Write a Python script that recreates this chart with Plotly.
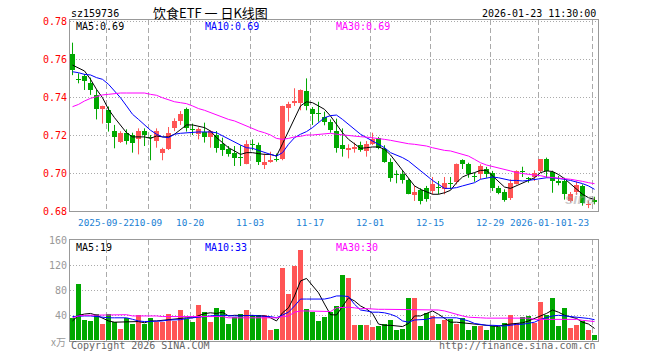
import plotly.graph_objects as go
import numpy as np

# ---------------- data ----------------
opens = [0.7627,0.7494,0.7512,0.7475,0.7411,0.7335,0.7333,0.7221,0.7165,0.7212,
         0.7198,0.7177,0.7223,0.7191,0.7168,0.7104,0.7125,0.7235,0.7275,0.7335,
         0.7232,0.7204,0.7216,0.7191,0.7200,0.7154,0.7125,0.7107,0.7081,0.7049,
         0.7151,0.7147,0.7044,0.7060,0.7072,0.7072,0.7344,0.7367,0.7367,0.7432,
         0.7335,0.7310,0.7296,0.7268,0.7221,0.7146,0.7123,0.7125,0.7147,0.7116,
         0.7154,0.7186,0.7128,0.7060,0.6991,0.6993,0.6961,0.6882,0.6911,0.6923,
         0.6905,0.6923,0.6914,0.6946,0.6954,0.7070,0.7046,0.6979,0.6993,0.7023,
         0.7002,0.6923,0.6902,0.6870,0.6944,0.7009,0.6968,0.6979,0.7011,0.7072,
         0.7006,0.6952,0.6960,0.6855,0.6900,0.6930,0.6832,0.6858]
highs = [0.7686,0.7525,0.7521,0.7502,0.7440,0.7354,0.7350,0.7253,0.7220,0.7230,
         0.7212,0.7235,0.7235,0.7200,0.7235,0.7133,0.7242,0.7288,0.7326,0.7344,
         0.7260,0.7240,0.7265,0.7225,0.7221,0.7186,0.7142,0.7142,0.7146,0.7172,
         0.7177,0.7160,0.7102,0.7112,0.7102,0.7354,0.7375,0.7446,0.7440,0.7498,
         0.7347,0.7375,0.7323,0.7282,0.7286,0.7235,0.7151,0.7160,0.7165,0.7168,
         0.7212,0.7190,0.7146,0.7077,0.7014,0.7014,0.6972,0.6932,0.6920,0.6932,
         0.6979,0.6958,0.6979,0.6979,0.7050,0.7072,0.7054,0.7002,0.7046,0.7032,
         0.7011,0.6932,0.6914,0.6967,0.7014,0.7033,0.6979,0.7014,0.7072,0.7081,
         0.7012,0.6985,0.6975,0.6900,0.6955,0.6940,0.6855,0.6875]
lows  = [0.7515,0.7472,0.7437,0.7411,0.7282,0.7260,0.7218,0.7130,0.7158,0.7150,
         0.7107,0.7098,0.7142,0.7067,0.7133,0.7067,0.7121,0.7220,0.7253,0.7218,
         0.7200,0.7177,0.7160,0.7133,0.7107,0.7090,0.7086,0.7037,0.7037,0.7046,
         0.7120,0.7042,0.7021,0.7054,0.7060,0.7067,0.7270,0.7353,0.7330,0.7330,
         0.7253,0.7270,0.7251,0.7212,0.7107,0.7086,0.7077,0.7107,0.7112,0.7086,
         0.7147,0.7125,0.7054,0.6954,0.6946,0.6944,0.6888,0.6853,0.6835,0.6849,
         0.6888,0.6888,0.6888,0.6914,0.6940,0.7021,0.6975,0.6954,0.6967,0.6975,
         0.6905,0.6888,0.6849,0.6858,0.6940,0.6979,0.6949,0.6958,0.7002,0.6975,
         0.6896,0.6935,0.6860,0.6845,0.6885,0.6828,0.6815,0.6835]
closes = [0.7540,0.7490,0.7484,0.7435,0.7335,0.7354,0.7265,0.7191,0.7212,0.7168,
          0.7156,0.7223,0.7200,0.7182,0.7223,0.7125,0.7212,0.7275,0.7312,0.7235,
          0.7228,0.7233,0.7191,0.7221,0.7133,0.7121,0.7102,0.7081,0.7077,0.7151,
          0.7149,0.7060,0.7060,0.7070,0.7070,0.7354,0.7365,0.7377,0.7435,0.7353,
          0.7312,0.7308,0.7268,0.7225,0.7133,0.7125,0.7130,0.7137,0.7121,0.7154,
          0.7177,0.7133,0.7060,0.6972,0.6989,0.6961,0.6891,0.6902,0.6853,0.6861,
          0.6940,0.6921,0.6949,0.6944,0.7049,0.7046,0.6993,0.6977,0.7037,0.6993,
          0.6923,0.6893,0.6856,0.6949,0.7011,0.7007,0.6966,0.7002,0.7072,0.7011,
          0.6960,0.6950,0.6892,0.6890,0.6935,0.6843,0.6836,0.6850]
volumes = [35,90,32.5,31,41.6,26,41.6,29,18,36,
           26,40,26,35,30,30,42,31,48.5,33.6,
           29,56.5,45,29,51.7,48.5,26,38,42,48.5,
           41,40,40,16,18,115,74,119,145,50,
           46,31,38,46,55,104.5,99.7,24.5,24.5,24.5,
           21,23,26,32.5,16.5,18,68,68,23,44,
           39,26,32.5,34,26,36,16.5,23,23,16.5,
           23,21,28,40.5,28,37,39,28,61,40.5,
           68,23,52,20,24.5,31,16.5,8.5]

ma5 = [0.7568,0.7554,0.7537,0.7493,0.7440,0.7396,0.7335,0.7291,0.7253,0.7212,
       0.7190,0.7190,0.7190,0.7182,0.7195,0.7190,0.7190,0.7204,0.7230,0.7253,
       0.7253,0.7247,0.7239,0.7221,0.7186,0.7160,0.7133,0.7116,0.7098,0.7107,
       0.7107,0.7102,0.7098,0.7098,0.7089,0.7154,0.7221,0.7291,0.7353,0.7375,
       0.7370,0.7353,0.7335,0.7300,0.7253,0.7212,0.7177,0.7151,0.7130,0.7133,
       0.7137,0.7137,0.7125,0.7095,0.7054,0.7014,0.6975,0.6932,0.6914,0.6902,
       0.6888,0.6888,0.6896,0.6909,0.6949,0.6979,0.6993,0.7002,0.7014,0.7014,
       0.6984,0.6954,0.6926,0.6919,0.6932,0.6946,0.6961,0.6975,0.7002,0.7011,
       0.7008,0.6992,0.6970,0.6942,0.6914,0.6888,0.6870,0.6861]
ma10 = [0.7533,0.7528,0.7519,0.7516,0.7502,0.7493,0.7467,0.7432,0.7396,0.7353,
        0.7309,0.7282,0.7253,0.7225,0.7204,0.7190,0.7186,0.7204,0.7209,0.7212,
        0.7212,0.7216,0.7216,0.7216,0.7212,0.7195,0.7177,0.7160,0.7147,0.7133,
        0.7130,0.7119,0.7107,0.7098,0.7089,0.7107,0.7151,0.7186,0.7204,0.7218,
        0.7239,0.7265,0.7291,0.7302,0.7305,0.7282,0.7256,0.7230,0.7204,0.7186,
        0.7168,0.7154,0.7133,0.7107,0.7095,0.7081,0.7063,0.7037,0.7014,0.6989,
        0.6961,0.6940,0.6919,0.6919,0.6923,0.6932,0.6940,0.6949,0.6967,0.6975,
        0.6979,0.6975,0.6967,0.6961,0.6961,0.6958,0.6961,0.6967,0.6972,0.6975,
        0.6975,0.6972,0.6967,0.6961,0.6954,0.6944,0.6932,0.6914]
ma30 = [0.7349,0.7361,0.7379,0.7393,0.7402,0.7411,0.7414,0.7418,0.7421,0.7421,
        0.7421,0.7421,0.7421,0.7414,0.7409,0.7396,0.7386,0.7375,0.7370,0.7365,
        0.7353,0.7339,0.7330,0.7318,0.7305,0.7291,0.7282,0.7274,0.7260,0.7247,
        0.7235,0.7221,0.7212,0.7200,0.7182,0.7177,0.7182,0.7190,0.7193,0.7200,
        0.7200,0.7204,0.7207,0.7209,0.7204,0.7200,0.7198,0.7195,0.7191,0.7189,
        0.7186,0.7182,0.7177,0.7172,0.7165,0.7160,0.7154,0.7151,0.7147,0.7142,
        0.7133,0.7125,0.7119,0.7116,0.7107,0.7102,0.7089,0.7072,0.7054,0.7042,
        0.7035,0.7028,0.7020,0.7011,0.7002,0.6996,0.6993,0.6989,0.6986,0.6979,
        0.6975,0.6972,0.6970,0.6967,0.6963,0.6956,0.6949,0.6944]
vma5 = [31,40,42,43,40,35,31,29,29,29,29,30,28,31,31,32,33.6,35,36,36,
        36,39,42.7,44,43,45,39,40,40,40,39,40,39,36,31,44,52,71,95,99,
        87,76,58,41,40.5,55,68,63,55,50,43,26,24,24,23,22,27,39,39,43,
        47,41.6,35,29,29,28,27,26,24,23,22,22,25,26,27,28,31,35,40,43,
        48.5,45,40,38,35,29,26,19]
vma10 = [38,39,39,39,38,36,36,36,36,36,33.6,31,30,30,30,31,32.5,33,33,35,
         36,38,39,40,40,40,39,39,39,40,40,39,39,38,36,40,45,55,66,66,
         66,66,66,68,71,71,70,57.6,48.5,47,45,45,44,41.6,38,31,29,32.5,32.5,33.6,
         36,36,36,36,36,33.6,31,27,25.6,24,24,23,23,24,25.6,25.6,27,29,33.6,36,
         39,40,39,39,37,36,35,33]
vma30 = [36,39,40,40,41,41,41,41,41,41,39,39,40,40,39,38,38,38,38,38,
         38,38,38,38,38,38,36,36,36,36,36,36,36,36,36,38,39,45,47,47,
         47,47,47,46,52,53,53,52,50.7,50.7,49.6,49.6,49.6,49.6,49.6,49.6,49.6,49.6,49.6,49.6,
         49,48.5,47,44,41.6,39,37,36,36,35.5,35.5,35.5,35.5,35.5,35.5,35.5,35.5,33.5,33.5,33.5,
         33.5,33.5,33.5,33.5,33.5,32,31,30]

date_labels = ["2025-09-22", "10-09", "10-20", "11-03", "11-17",
               "12-01", "12-15", "12-29", "2026-01-12", "01-23"]
date_index = [6, 13, 20, 30, 40, 50, 60, 70, 78, 87]
price_ticks = [0.68, 0.70, 0.72, 0.74, 0.76, 0.78]
vol_ticks = [40, 80, 120, 160]

# ---------------- styling ----------------
RED = "#ff5555"
GREEN = "#00a800"
GRID = "#aaaaaa"
BORDER = "#999999"
MONO = "DejaVu Sans Mono, Liberation Mono, monospace"
W, H = 660, 360
L, R, T, B = 70, 62, 20, 19
PW, PH = W - L - R, H - T - B

def px(xp):
    return (xp - L) / PW

def py(yp):
    return (H - B - yp) / PH

n = len(opens)
idx = np.arange(n)
o = np.array(opens); c = np.array(closes); hi = np.array(highs); lo = np.array(lows)
up = c >= o
cols = np.where(up, RED, GREEN)
body_base = np.minimum(o, c)
body_h = np.maximum(np.abs(c - o), 0.0006)

fig = go.Figure()

# wicks
for flag, col in ((True, RED), (False, GREEN)):
    xs, ys = [], []
    for i in idx[up == flag]:
        xs += [i, i, None]
        ys += [lo[i], hi[i], None]
    fig.add_trace(go.Scatter(x=xs, y=ys, mode="lines", line=dict(color=col, width=1),
                             xaxis="x", yaxis="y", hoverinfo="skip", showlegend=False))
# bodies
fig.add_trace(go.Bar(x=idx, y=body_h, base=body_base, width=0.8,
                     marker=dict(color=list(cols), line=dict(width=0)),
                     xaxis="x", yaxis="y", showlegend=False, hoverinfo="skip"))
# price MAs
for arr, col in ((ma5, "#000000"), (ma10, "#0000ff"), (ma30, "#ff00ff")):
    fig.add_trace(go.Scatter(x=idx, y=arr, mode="lines", line=dict(color=col, width=1),
                             xaxis="x", yaxis="y", showlegend=False, hoverinfo="skip"))
# volume
fig.add_trace(go.Bar(x=idx, y=volumes, width=0.8,
                     marker=dict(color=list(cols), line=dict(width=0)),
                     xaxis="x2", yaxis="y2", showlegend=False, hoverinfo="skip"))
for arr, col in ((vma5, "#000000"), (vma10, "#0000ff"), (vma30, "#ff00ff")):
    fig.add_trace(go.Scatter(x=idx, y=arr, mode="lines", line=dict(color=col, width=1),
                             xaxis="x2", yaxis="y2", showlegend=False, hoverinfo="skip"))

grid_pos = [d - 0.37 for d in date_index]
xr = [-0.42, 87.58]
xcommon = dict(range=xr, showticklabels=False, ticks="", tickvals=grid_pos,
               showgrid=True, gridcolor=GRID, griddash="5px,3px", gridwidth=1,
               zeroline=False, showline=True, mirror=True, linecolor=BORDER, linewidth=1,
               fixedrange=True)
fig.update_layout(
    width=W, height=H, margin=dict(l=L, r=R, t=T, b=B, autoexpand=False),
    paper_bgcolor="white", plot_bgcolor="white", barmode="overlay", bargap=0,
    hovermode=False,
    xaxis=dict(domain=[0, 1], anchor="y", **xcommon),
    xaxis2=dict(domain=[0, 1], anchor="y2", matches="x", **xcommon),
    yaxis=dict(domain=[py(211), 1], range=[0.68, 0.78053], tickvals=price_ticks,
               ticktext=[f"{v:.2f}" for v in price_ticks], ticks="",
               tickfont=dict(family=MONO, size=10, color="#ff0000"),
               showgrid=True, gridcolor=GRID, griddash="1px,2px", zeroline=False,
               showline=True, mirror=True, linecolor=BORDER, linewidth=1, fixedrange=True),
    yaxis2=dict(domain=[0, py(240)], range=[-1.1, 160.5], tickvals=vol_ticks,
                ticktext=[str(v) for v in vol_ticks], ticks="",
                tickfont=dict(family=MONO, size=10, color="#999999"),
                showgrid=True, gridcolor=GRID, griddash="1px,2px", zeroline=False,
                showline=True, mirror=True, linecolor=BORDER, linewidth=1, fixedrange=True),
)

ann = []
def text(x, y, s, color="#000", size=10, anchor="left", family=MONO, bg=None):
    d = dict(x=px(x), y=py(y), xref="paper", yref="paper", text=s, showarrow=False,
             xanchor=anchor, yanchor="middle", font=dict(family=family, size=size, color=color))
    if bg:
        d["bgcolor"] = bg
    ann.append(d)

NB = "\u00a0"
text(69, 13, "sz159736")
text(210, 12, "饮食ETF" + NB + "一" + NB + "日K线图", size=13, anchor="center",
     family="Noto Sans CJK SC")
text(598, 13, "2026-01-23 11:30:00", anchor="right")
text(74, 26, "MA5:0.69")
text(203, 26, "MA10:0.69", color="#0000ff")
text(334, 26, "MA30:0.69", color="#ff00ff")
text(74, 247, "MA5:19")
text(203, 247, "MA10:33", color="#0000ff")
text(334, 247, "MA30:30", color="#ff00ff")
text(49, 341, "x万", color="#999999", size=10, family="Noto Sans CJK SC")
text(69, 346, "Copyright 2026 SINA.COM", color="#666666")
text(598, 346, "http://finance.sina.com.cn", color="#666666", anchor="right")
text(580, 199, "<b><i>sina</i></b>", color="rgba(160,160,160,0.55)", size=15, anchor="center",
     family="Liberation Sans")

for lab, g in zip(date_labels, grid_pos):
    xpix = L + (g - xr[0]) / (xr[1] - xr[0]) * PW
    if lab == date_labels[-1]:
        text(xpix - 1, 222, lab, color="#1a7fd4", size=9.4, anchor="right", bg="white")
    else:
        text(xpix, 222, lab, color="#1a7fd4", size=9.4, anchor="center")

fig.update_layout(annotations=ann)
fig.write_html("out.html", config={"displayModeBar": False, "staticPlot": True},
               post_script="document.body.style.margin='0px';document.body.style.overflow='hidden';")
